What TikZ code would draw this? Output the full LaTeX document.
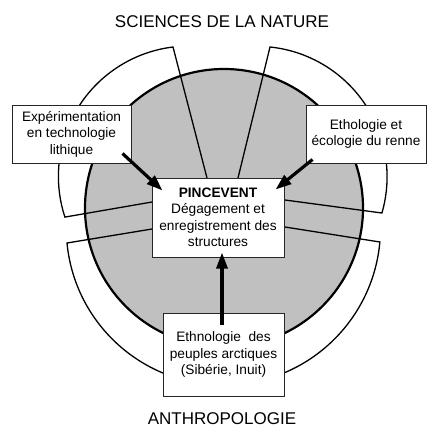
\documentclass[tikz,border=0pt]{standalone}
\usepackage{fontspec}
\setmainfont{Liberation Sans}
\usetikzlibrary{arrows.meta,calc}
\definecolor{disc}{RGB}{192,192,192}
\begin{document}
\begin{tikzpicture}[x=1pt,y=-1pt,
  box/.style={draw=black!85, line width=1pt, fill=white, align=center, inner sep=0pt,
    font=\fontsize{13.7}{16.5}\selectfont},
  sector/.style={draw=black, line width=1.3pt, line join=miter},
  title/.style={font=\fontsize{17}{20}\selectfont},
  flow/.style={line width=3.2pt, -{Triangle[length=16pt,width=11pt]}}]
\useasboundingbox (0,0) rectangle (443,434);
\fill[white] (0,0) rectangle (443,434);
% central disc
\draw[fill=disc, line width=2.2pt] (224,208) circle[radius=139];
% three exploded ring sectors
\draw[sector] (207,178) -- (173,47) arc[start angle=263.04, end angle=161.84, radius=130.4] -- (152,202);
\draw[sector] (238,178) -- (270,47) arc[start angle=-84.14, end angle=16.16, radius=130.4] -- (285,200);
\draw[sector] (152,229) -- (67,243) arc[start angle=174.52, end angle=5.11, radius=157.1] -- (285,227);
% titles
\node[title] (nat) at (222,21.5) {SCIENCES DE LA NATURE};
\node[title] (anth) at (222,418.5) {ANTHROPOLOGIE};
% boxes
\node[box, minimum width=119pt, minimum height=58pt] (tl) at (71.5,134) {Expérimentation\\en technologie\\lithique};
\node[box, minimum width=120pt, minimum height=58pt] (tr) at (366,134) {Ethologie et\\écologie du renne};
\node[box, minimum width=132pt, minimum height=79pt] (c) at (218,217.5) {\textbf{PINCEVENT}\\Dégagement et\\enregistrement des\\structures};
\node[box, minimum width=121pt, minimum height=83pt] (b) at (223.5,354.5) {Ethnologie~~des\\peuples arctiques\\(Sibérie, Inuit)};
% arrows
\draw[flow] ($(tl.south east)+(-9,-10)$) -- ($(c.north west)+(11,13)$);
\draw[flow] ($(tr.south west)+(7,-4)$) -- ($(c.north east)+(-9,12)$);
\draw[flow] ($(b.north)+(-1.5,12)$) -- ($(c.south)+(4,-5)$);
\end{tikzpicture}
\end{document}
